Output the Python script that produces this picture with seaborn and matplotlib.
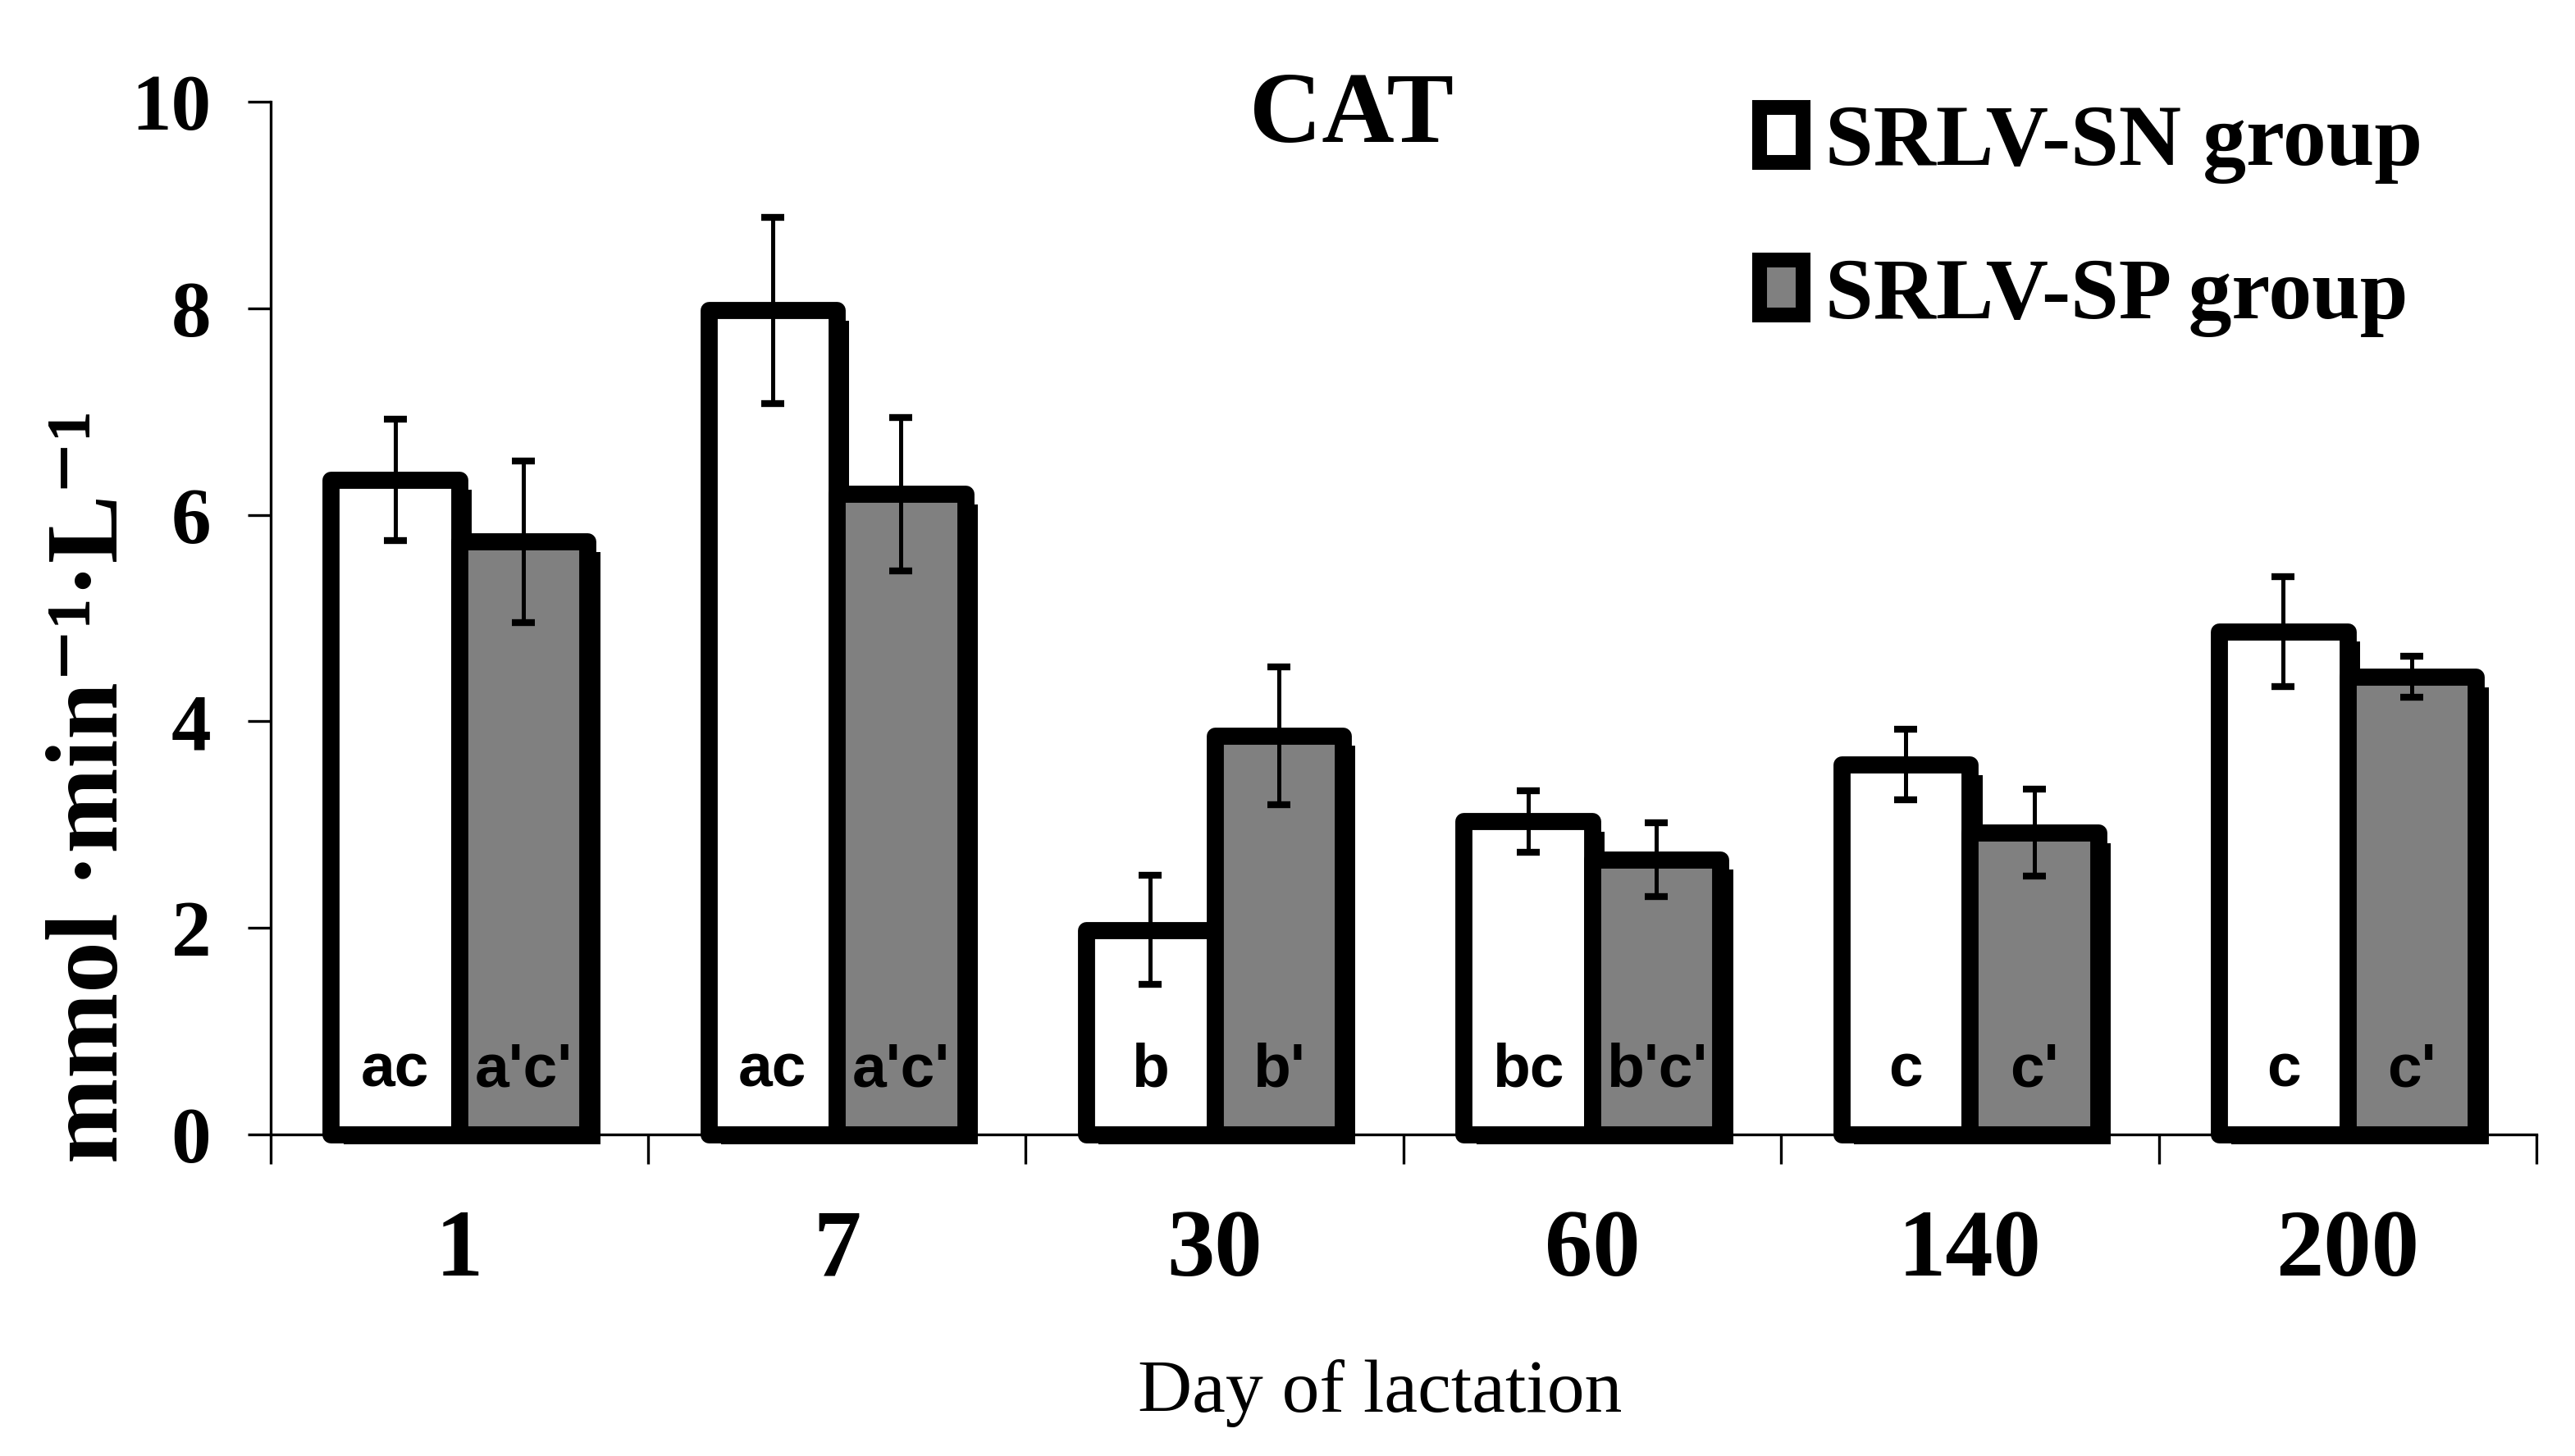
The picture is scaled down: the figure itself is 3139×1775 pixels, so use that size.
import matplotlib
matplotlib.use("Agg")
import matplotlib.pyplot as plt
import matplotlib.patheffects as pe
from matplotlib.patches import Patch
from matplotlib.ticker import FixedLocator
import seaborn as sns
import pandas as pd

# values
days = ['1', '7', '30', '60', '140', '200']
groups = ['SRLV-SN group', 'SRLV-SP group']
sn_mean = [6.34, 7.98, 1.98, 3.03, 3.58, 4.87]
sn_err = [0.59, 0.90, 0.53, 0.30, 0.34, 0.53]
sp_mean = [5.74, 6.20, 3.86, 2.66, 2.92, 4.43]
sp_err = [0.78, 0.745, 0.67, 0.355, 0.42, 0.20]
sn_letters = ['ac', 'ac', 'b', 'bc', 'c', 'c']
sp_letters = ["a'c'", "a'c'", "b'", "b'c'", "c'", "c'"]

df = pd.DataFrame({
    'day': days * 2,
    'value': sn_mean + sp_mean,
    'group': [groups[0]] * len(days) + [groups[1]] * len(days),
})

sns.set_style('ticks')
plt.rcParams['font.family'] = ['Liberation Serif', 'DejaVu Serif']
for k in ['text.color', 'axes.labelcolor', 'xtick.color', 'ytick.color', 'axes.edgecolor']:
    plt.rcParams[k] = 'black'

fig = plt.figure(figsize=(15.695, 8.875), dpi=200)
ax = fig.add_axes([0.105, 0.221, 0.880, 0.709])

sns.barplot(data=df, x='day', y='value', hue='group', order=days, hue_order=groups,
            palette=['white', '#808080'], edgecolor='black', linewidth=7.5,
            width=0.68, errorbar=None, legend=False, ax=ax)

errs = [sn_err, sp_err]
letters = [sn_letters, sp_letters]
for cont, err, labs in zip(ax.containers, errs, letters):
    xs, ys = [], []
    for p, lab in zip(cont, labs):
        p.set_joinstyle('round')
        p.set_clip_on(False)
        p.set_path_effects([pe.SimplePatchShadow(offset=(5.5, -4.5), shadow_rgbFace='black', alpha=1.0),
                            pe.Normal()])
        xc = p.get_x() + p.get_width() / 2
        xs.append(xc)
        ys.append(p.get_height())
        ax.text(xc, 0.62, lab, ha='center', va='center', fontsize=27, fontweight='bold',
                family=['Liberation Sans', 'DejaVu Sans'], zorder=5)
    ax.errorbar(xs, ys, yerr=err, fmt='none', ecolor='black', elinewidth=1.8,
                capsize=5, capthick=3, zorder=6)

ax.set_ylim(0, 10)
ax.set_xlim(-0.5, 5.5)
ax.set_yticks([0, 2, 4, 6, 8, 10])
ax.tick_params(axis='y', labelsize=35, length=10, width=1.2, pad=16)
for t in ax.get_yticklabels():
    t.set_fontweight('bold')
ax.tick_params(axis='x', which='major', labelsize=42, length=0, pad=33)
for t in ax.get_xticklabels():
    t.set_fontweight('bold')
ax.xaxis.set_minor_locator(FixedLocator([i - 0.5 for i in range(len(days) + 1)]))
ax.tick_params(axis='x', which='minor', length=13, width=1.2, direction='out')
ax.set_xlabel('')
ax.set_ylabel('')
for s in ['top', 'right']:
    ax.spines[s].set_visible(False)
for s in ['left', 'bottom']:
    ax.spines[s].set_linewidth(1.2)

fig.text(0.036, 0.46, 'mmol ·min⁻¹·L⁻¹', rotation=90, ha='center', va='center',
         fontsize=45, fontweight='bold')
fig.text(0.536, 0.043, 'Day of lactation', ha='center', va='center', fontsize=33)
fig.text(0.525, 0.919, 'CAT', ha='center', va='center', fontsize=44, fontweight='bold')

handles = [Patch(facecolor='white', edgecolor='black', linewidth=6.5),
           Patch(facecolor='#808080', edgecolor='black', linewidth=6.5)]
fig.legend(handles, groups, loc='upper left', bbox_to_anchor=(0.670, 0.952), frameon=False,
           prop={'size': 38, 'weight': 'bold'}, handlelength=0.5, handleheight=0.6,
           handletextpad=0.25, labelspacing=0.85, borderaxespad=0)

fig.savefig('out.png', dpi=200, facecolor='white')
